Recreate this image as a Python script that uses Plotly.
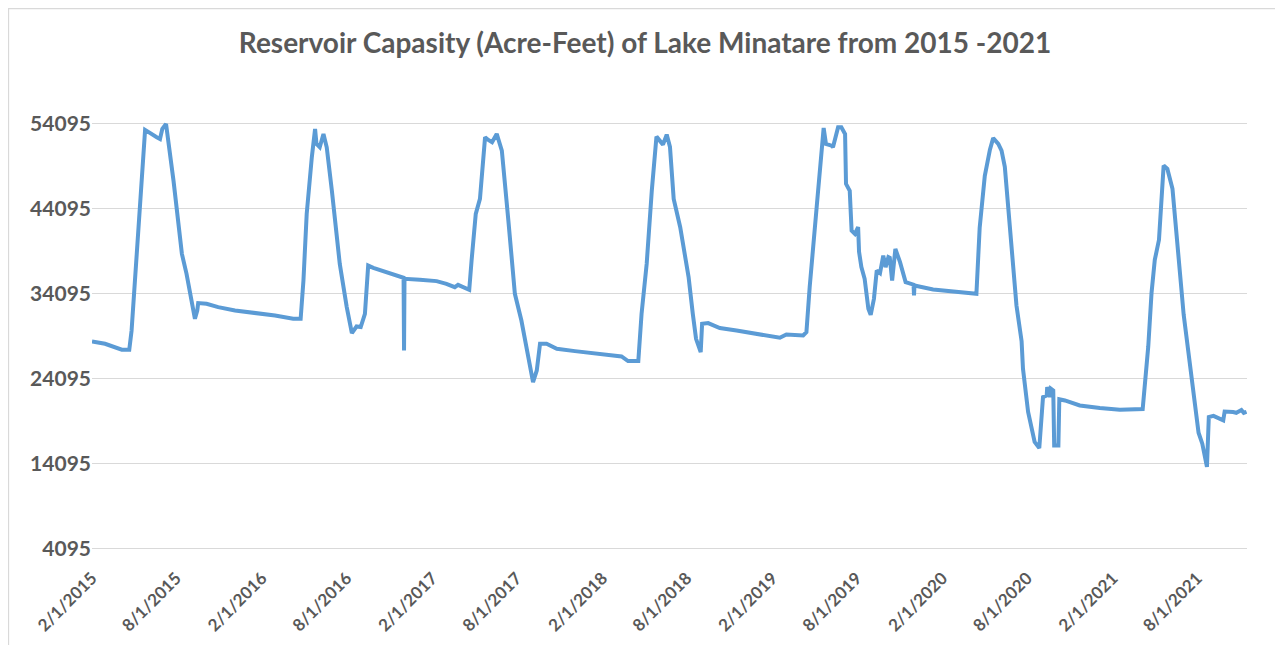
import plotly.graph_objects as go

# Reservoir capacity (acre-feet)
dates = [
    "2015-02-01", "2015-03-01", "2015-04-06", "2015-04-22", "2015-04-27", "2015-05-04",
    "2015-05-14", "2015-05-26", "2015-06-20", "2015-06-27", "2015-07-02", "2015-07-10",
    "2015-07-26", "2015-08-13", "2015-08-23", "2015-09-10", "2015-09-15", "2015-09-17",
    "2015-10-05", "2015-10-30", "2015-12-05", "2016-01-24", "2016-02-29", "2016-04-08",
    "2016-04-24", "2016-04-30", "2016-05-07", "2016-05-18", "2016-05-25", "2016-05-28",
    "2016-06-04", "2016-06-12", "2016-06-19", "2016-06-30", "2016-07-17", "2016-08-01",
    "2016-08-12", "2016-08-22", "2016-08-31", "2016-09-09", "2016-09-14", "2016-09-16",
    "2016-09-27", "2016-11-02", "2016-11-30", "2016-12-01", "2016-12-02", "2016-12-03",
    "2017-01-05", "2017-02-10", "2017-03-03", "2017-03-21", "2017-03-28", "2017-04-21",
    "2017-04-26", "2017-05-05", "2017-05-14", "2017-05-25", "2017-06-01", "2017-06-09",
    "2017-06-19", "2017-06-30", "2017-07-14", "2017-07-28", "2017-08-11", "2017-08-26",
    "2017-09-05", "2017-09-13", "2017-09-20", "2017-10-04", "2017-10-26", "2017-12-04",
    "2018-01-30", "2018-03-14", "2018-03-28", "2018-04-19", "2018-04-26", "2018-05-07",
    "2018-05-18", "2018-05-28", "2018-06-11", "2018-06-19", "2018-06-26", "2018-07-04",
    "2018-07-18", "2018-08-05", "2018-08-14", "2018-08-21", "2018-08-31", "2018-09-03",
    "2018-09-16", "2018-10-11", "2018-11-16", "2018-12-29", "2019-02-17", "2019-03-03",
    "2019-04-08", "2019-04-15", "2019-04-22", "2019-05-07", "2019-05-22", "2019-05-27",
    "2019-06-08", "2019-06-11", "2019-06-22", "2019-06-29", "2019-07-07", "2019-07-09",
    "2019-07-17", "2019-07-21", "2019-07-28", "2019-08-04", "2019-08-06", "2019-08-11",
    "2019-08-18", "2019-08-26", "2019-08-31", "2019-09-07", "2019-09-13", "2019-09-20",
    "2019-09-27", "2019-10-02", "2019-10-08", "2019-10-11", "2019-10-16", "2019-10-23",
    "2019-11-02", "2019-11-14", "2019-11-27", "2019-12-01", "2019-12-02", "2019-12-03",
    "2020-01-12", "2020-02-28", "2020-04-11", "2020-04-14", "2020-04-21", "2020-05-02",
    "2020-05-13", "2020-05-20", "2020-05-31", "2020-06-07", "2020-06-14", "2020-06-28",
    "2020-07-09", "2020-07-20", "2020-07-23", "2020-08-03", "2020-08-17", "2020-08-27",
    "2020-08-30", "2020-09-04", "2020-09-12", "2020-09-13", "2020-09-19", "2020-09-21",
    "2020-09-26", "2020-09-28", "2020-10-07", "2020-10-09", "2020-10-21", "2020-11-15",
    "2020-11-22", "2021-01-04", "2021-02-02", "2021-02-16", "2021-04-06", "2021-04-18",
    "2021-04-25", "2021-05-02", "2021-05-11", "2021-05-21", "2021-05-29", "2021-06-09",
    "2021-07-03", "2021-08-04", "2021-08-12", "2021-08-22", "2021-08-26", "2021-09-05",
    "2021-09-26", "2021-09-29", "2021-10-17", "2021-10-24", "2021-11-04", "2021-11-09",
    "2021-11-15",
]
capacity = [
    28480, 28210, 27510, 27510, 29780, 35660,
    43510, 53390, 52530, 52330, 53510, 54095,
    47420, 38800, 36450, 31150, 32130, 33000,
    32920, 32530, 32130, 31820, 31540, 31150,
    31150, 35660, 43510, 50180, 53510, 51740,
    51350, 52920, 51350, 46250, 37620, 32530,
    29470, 30250, 30180, 31740, 34880, 37420,
    37150, 36450, 35980, 35980, 27420, 35860,
    35740, 35590, 35270, 34880, 35150, 34570,
    38010, 43510, 45270, 52530, 52210, 51940,
    52920, 50950, 42720, 34095, 30950, 26250,
    23710, 25070, 28210, 28210, 27620, 27350,
    27040, 26720, 26180, 26180, 31740, 37620,
    46250, 52600, 51660, 52840, 51390, 45270,
    41940, 36060, 31740, 28800, 27230, 30560,
    30650, 30060, 29780, 29390, 28920, 29310,
    29190, 29590, 34880, 44300, 53620, 51740,
    51540, 51350, 53710, 53710, 52920, 47040,
    46210, 41540, 41150, 41940, 39040, 37240,
    35860, 32330, 31620, 33510, 36840, 36530,
    38600, 37240, 38410, 38330, 35660, 39390,
    37820, 35470, 35190, 35170, 33900, 35070,
    34600, 34370, 34210, 34095, 41860, 47980,
    51070, 52420, 51740, 50950, 49040, 39590,
    32720, 28510, 25270, 20180, 16650, 15940,
    18600, 21940, 22130, 23120, 21940, 22920,
    22720, 16250, 16250, 21680, 21540, 21150,
    20950, 20650, 20480, 20450, 20530, 27920,
    34190, 38095, 40450, 49190, 48800, 46450,
    31650, 17740, 16450, 13710, 19590, 19720,
    19190, 20240, 20180, 20090, 20410, 20090,
    20210,
]

x_tick_dates = [
    "2015-02-01", "2015-08-01", "2016-02-01", "2016-08-01", "2017-02-01", "2017-08-01",
    "2018-02-01", "2018-08-01", "2019-02-01", "2019-08-01", "2020-02-01", "2020-08-01",
    "2021-02-01", "2021-08-01",
]
x_tick_labels = [
    "2/1/2015", "8/1/2015", "2/1/2016", "8/1/2016", "2/1/2017", "8/1/2017",
    "2/1/2018", "8/1/2018", "2/1/2019", "8/1/2019", "2/1/2020", "8/1/2020",
    "2/1/2021", "8/1/2021",
]
y_ticks = [4095, 14095, 24095, 34095, 44095, 54095]
y_tick_labels = ["4095", "14095", "24095", "34095", "44095", "54095"]

title_text = "Reservoir Capasity (Acre-Feet) of Lake Minatare from 2015 -2021"

FONT = "Lato"
GREY = "#595959"

fig = go.Figure()
fig.add_trace(go.Scatter(
    x=dates, y=capacity, mode="lines",
    line=dict(color="#5b9bd5", width=4, shape="linear"),
    hoverinfo="skip", showlegend=False,
))

fig.update_layout(
    width=1283, height=645,
    margin=dict(l=84, r=44, t=104, b=101),
    paper_bgcolor="white", plot_bgcolor="white",
    title=dict(
        text=title_text, x=0.4965, xref="container",
        xanchor="center", y=0.945, yref="container", yanchor="middle",
        font=dict(family=FONT, size=28, color=GREY, weight="bold"),
    ),
    xaxis=dict(
        type="date", range=["2015-02-01", "2021-11-16"], automargin=False,
        tickmode="array", tickvals=x_tick_dates, ticktext=x_tick_labels,
        tickangle=-45, showgrid=False, zeroline=False, showline=False,
        ticks="", ticklabelstandoff=12,
        tickfont=dict(family=FONT, size=17, color=GREY, weight="bold"),
    ),
    yaxis=dict(
        range=[3700, 55500], automargin=False,
        tickmode="array", tickvals=y_ticks, ticktext=y_tick_labels,
        showgrid=True, gridcolor="#d9d9d9", gridwidth=1.3, zeroline=False,
        showline=False, ticks="",
        tickfont=dict(family=FONT, size=21, color=GREY, weight="bold"),
    ),
    shapes=[dict(
        type="rect", xref="paper", yref="paper",
        x0=-0.0723, x1=1.08, y0=-0.4, y1=1.235,
        line=dict(color="#d9d9d9", width=1.3), fillcolor="rgba(0,0,0,0)", layer="below",
    )],
)

fig.write_html("out.html")
